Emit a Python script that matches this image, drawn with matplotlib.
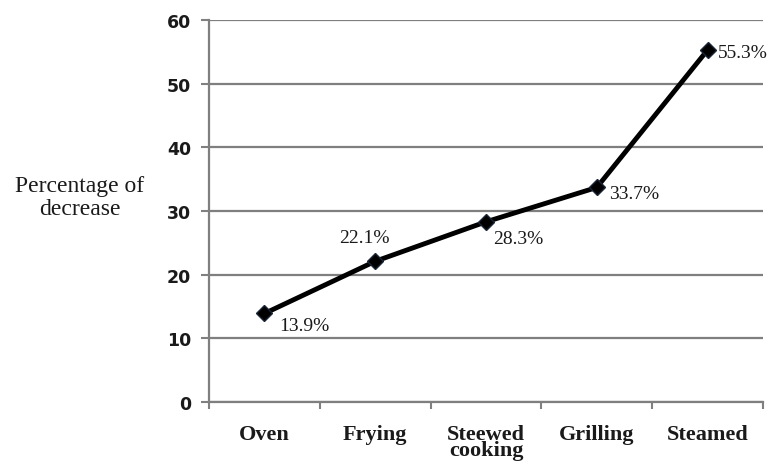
import matplotlib
matplotlib.use("Agg")
import matplotlib.pyplot as plt
import numpy as np

# Data
methods = ["Oven", "Frying", "Steewed\ncooking", "Grilling", "Steamed"]
decrease = [13.9, 22.1, 28.3, 33.7, 55.3]
y_ticks = [0, 10, 20, 30, 40, 50, 60]
# label offsets in points (dx, dy) relative to each marker
label_offsets = [(29, -9), (-8, 17), (23, -12), (27, -4), (25, -2)]

serif = ["Liberation Serif", "DejaVu Serif"]

fig = plt.figure(figsize=(7.69, 4.64), dpi=100)
fig.patch.set_facecolor("white")

ax = fig.add_axes([0.2718, 0.1315, 0.7204, 0.8232])

x = np.arange(len(methods)) + 0.5
ax.plot(x, decrease, color="black", lw=3.5, marker="D", markersize=8.5,
        markerfacecolor="black", markeredgecolor="#1a2535", zorder=3,
        clip_on=False)

for xi, v, (dx, dy) in zip(x, decrease, label_offsets):
    ax.annotate(f"{v}%", (xi, v), xytext=(dx, dy), textcoords="offset points",
                ha="center", va="center", fontsize=14, family=serif,
                color="#1a1a1a")

ax.set_xlim(0, len(methods))
ax.set_ylim(0, 60)
ax.set_yticks(y_ticks)
ax.set_yticklabels([str(t) for t in y_ticks], fontsize=12.5,
                   fontweight="bold", family="DejaVu Sans", color="#1a1a1a")

ax.set_xticks(np.arange(len(methods) + 1))
ax.set_xticklabels([""] * (len(methods) + 1))
ax.set_xticks(x, minor=True)
ax.set_xticklabels(methods, minor=True, fontsize=16, fontweight="bold",
                   family=serif, linespacing=0.72, color="#1a1a1a")
ax.tick_params(axis="x", which="minor", length=0, pad=16)
ax.tick_params(axis="x", which="major", length=5, width=1.5, color="#808080")
ax.tick_params(axis="y", length=6, width=1.5, color="#808080", pad=7)

ax.grid(axis="y", color="#7f7f7f", lw=1.6, zorder=1)
ax.set_axisbelow(True)
for side in ("top", "right"):
    ax.spines[side].set_visible(False)
for side in ("left", "bottom"):
    ax.spines[side].set_color("#7f7f7f")
    ax.spines[side].set_linewidth(1.6)

fig.text(0.104, 0.573, "Percentage of\ndecrease", ha="center", va="center",
         fontsize=17, family=serif, linespacing=1.1, color="#1a1a1a")

fig.savefig("out.png", dpi=100)
